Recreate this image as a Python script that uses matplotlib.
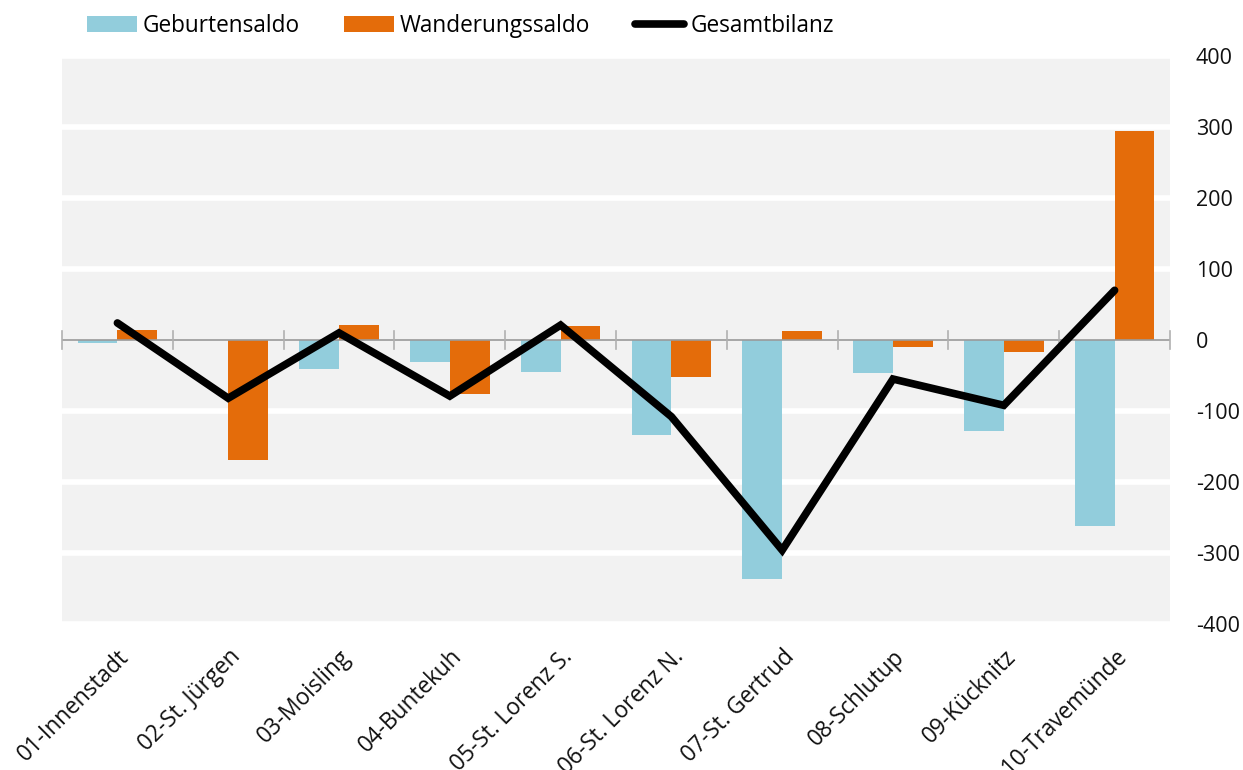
import matplotlib
matplotlib.use("Agg")
import matplotlib.pyplot as plt
import numpy as np
from matplotlib.patches import Patch
from matplotlib.lines import Line2D

plt.rcParams['font.family'] = ['Open Sans', 'DejaVu Sans']
plt.rcParams['axes.unicode_minus'] = False

categories = ["01-Innenstadt", "02-St. Jürgen", "03-Moisling", "04-Buntekuh",
              "05-St. Lorenz S.", "06-St. Lorenz N.", "07-St. Gertrud",
              "08-Schlutup", "09-Kücknitz", "10-Travemünde"]
geburtensaldo = [-4, 0, -41, -31, -45, -134, -337, -46, -128, -262]
wanderungssaldo = [14, -169, 21, -76, 20, -52, 13, -10, -17, 294]
gesamtbilanz = [24, -82, 10, -79, 21, -108, -296, -55, -92, 70]
yticks = [-400, -300, -200, -100, 0, 100, 200, 300, 400]

c_blue = "#92CDDC"
c_orange = "#E46C0A"

fig = plt.figure(figsize=(12.43, 7.70), dpi=100)
ax = fig.add_axes([62/1243, 1-624/770, (1170-62)/1243, (624-56)/770])
ax.set_facecolor("#f2f2f2")

x = np.arange(len(categories))
w = 0.36
ax.bar(x - w/2, geburtensaldo, width=w, color=c_blue, zorder=2)
ax.bar(x + w/2, wanderungssaldo, width=w, color=c_orange, zorder=2)
ax.plot(x, gesamtbilanz, color="black", lw=5.5, solid_capstyle="round",
        solid_joinstyle="miter", zorder=4)

ax.set_xlim(-0.5, len(categories) - 0.5)
ax.set_ylim(-400, 400)
for y in yticks:
    if y != 0:
        ax.axhline(y, color="white", lw=4, zorder=1)
ax.axhline(0, color="#9a9a9a", lw=1.2, zorder=3)
for b in np.arange(-0.5, len(categories), 1.0):
    ax.plot([b, b], [-12, 12], color="#b0b0b0", lw=1.2, zorder=3, clip_on=False)

for s in ax.spines.values():
    s.set_visible(False)

ax.yaxis.tick_right()
ax.set_yticks(yticks)
ax.set_yticklabels([str(v) for v in yticks])
ax.tick_params(axis='y', length=0, pad=18.7, labelsize=15.5, colors="#111111")

ax.set_xticks(x)
ax.set_xticklabels(categories, rotation=45, ha='right', va='top',
                   rotation_mode='anchor', fontsize=16.3, color="#111111")
ax.tick_params(axis='x', length=0, pad=15)

handles = [Patch(facecolor=c_blue, edgecolor='none'),
           Patch(facecolor=c_orange, edgecolor='none'),
           Line2D([0], [0], color='black', lw=5.5, solid_capstyle='round')]
fig.legend(handles, ["Geburtensaldo", "Wanderungssaldo", "Gesamtbilanz"],
           loc='center left', bbox_to_anchor=(87/1243, 1-26/770), ncol=3,
           frameon=False, fontsize=16.3, handlelength=2.2, handleheight=0.65,
           handletextpad=0.27, columnspacing=1.95, borderpad=0, borderaxespad=0)

fig.savefig("out.png", dpi=100)
